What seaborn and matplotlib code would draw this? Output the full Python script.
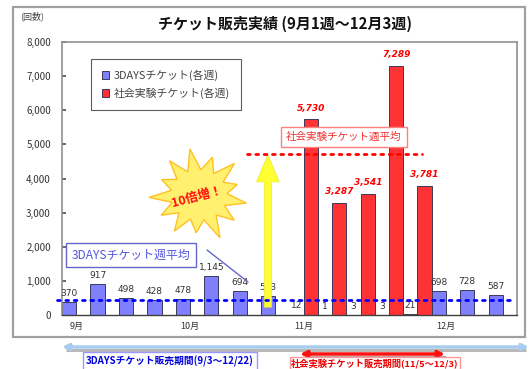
import numpy as np
import pandas as pd
import matplotlib
matplotlib.use("Agg")
import matplotlib.pyplot as plt
from matplotlib.patches import Rectangle, Polygon, FancyArrow
import seaborn as sns

# ---------------- data ----------------
weeks = ["9月1週", "9月2週", "9月3週", "9月4週",
         "10月1週", "10月2週", "10月3週", "10月4週",
         "11月1週", "11月2週", "11月3週", "11月4週", "11月5週",
         "12月1週", "12月2週", "12月3週"]
days3_values = [370, 917, 498, 428, 478, 1145, 694, 543,
                12, 1, 3, 3, 21, 698, 728, 587]
social_values = [0, 0, 0, 0, 0, 0, 0, 0,
                 5730, 3287, 3541, 7289, 3781, 0, 0, 0]
series_names = ["3DAYSチケット(各週)", "社会実験チケット(各週)"]
month_tick_pos = [0, 4, 8, 13]
month_tick_labels = ["9月", "10月", "11月", "12月"]
yticks = [0, 1000, 2000, 3000, 4000, 5000, 6000, 7000, 8000]
ytick_labels = ["0", "1,000", "2,000", "3,000", "4,000", "5,000", "6,000", "7,000", "8,000"]
days3_avg = 445
social_avg = 4725

title = "チケット販売実績 (9月1週～12月3週)"

df = pd.DataFrame({
    "week": weeks * 2,
    "series": [series_names[0]] * len(weeks) + [series_names[1]] * len(weeks),
    "value": days3_values + social_values,
})

# ---------------- style ----------------
sns.set_theme(style="white")
plt.rcParams["font.family"] = ["Noto Sans CJK JP", "DejaVu Sans"]

W, H = 532, 369
fig = plt.figure(figsize=(W / 100, H / 100), dpi=100)
fig.patch.set_facecolor("white")

def fx(px):
    return px / W

def fy(py):
    return 1 - py / H

blue = "#8080FF"
red = "#FF3333"

ax_l, ax_r, ax_t, ax_b = 62, 517, 42, 315
ax = fig.add_axes([fx(ax_l), fy(ax_b), (ax_r - ax_l) / W, (ax_b - ax_t) / H])
sns.barplot(data=df, x="week", y="value", hue="series", order=weeks,
            hue_order=series_names, palette=[blue, red], width=1.0,
            edgecolor="#3a3a5a", linewidth=0.7, ax=ax, saturation=1)

ax.set_xlim(-0.5, len(weeks) - 0.5)
ax.set_ylim(0, 8000)
ax.set_xlabel("")
ax.set_ylabel("")
ax.set_xticks(month_tick_pos)
ax.set_xticklabels(month_tick_labels, fontsize=6.5, color="#333333")
ax.set_yticks(yticks)
ax.set_yticklabels(ytick_labels, fontsize=7, color="#333333")
ax.tick_params(axis="x", length=0, pad=5)
ax.tick_params(axis="y", direction="in", length=3, color="#555555", pad=8, left=True)
for side in ["top", "right", "left"]:
    ax.spines[side].set_color("#909090")
    ax.spines[side].set_linewidth(1.2)
ax.spines["bottom"].set_color("#404040")
ax.spines["bottom"].set_linewidth(1.0)

# bar labels
blue_cont, red_cont = ax.containers[0], ax.containers[1]
ax.bar_label(blue_cont, labels=[f"{v:,}" for v in days3_values], padding=3,
             fontsize=6.5, color="#333333", family=["DejaVu Sans"])
ax.bar_label(red_cont, labels=[f"{v:,}" if v > 0 else "" for v in social_values],
             padding=5, fontsize=6.5, color="#FF0000", family=["DejaVu Sans"],
             fontstyle="italic", fontweight="bold")

# yellow arrow (drawn in data coordinates)
ax.add_patch(FancyArrow(6.74, 230, 0, 4470, width=0.26, head_width=0.8,
                        head_length=800, length_includes_head=True,
                        facecolor="#FFFF33", edgecolor="#E8E830", lw=0.5,
                        zorder=4, clip_on=False))

# average lines
ax.plot([-0.68, 15.25], [days3_avg, days3_avg], color="#0000FF", lw=2.0,
        linestyle=(0, (1, 2)), dash_capstyle="round", zorder=6, clip_on=False)
ax.plot([6.0, 12.15], [social_avg, social_avg], color="#FF0000", lw=2.0,
        linestyle=(0, (1, 2)), dash_capstyle="round", zorder=6, clip_on=False)

# legend
handles, labels = ax.get_legend_handles_labels()
leg = ax.legend(handles, labels, loc="upper left",
                bbox_to_anchor=(fx(91), fy(59)), bbox_transform=fig.transFigure,
                fontsize=7.8, frameon=True, fancybox=False, edgecolor="#333333",
                handlelength=0.7, handleheight=0.7, handletextpad=0.4,
                borderpad=1.0, labelspacing=0.6, borderaxespad=0)
leg.get_frame().set_linewidth(0.8)
for t in leg.get_texts():
    t.set_color("#444444")

# ---------------- overlay in pixel coordinates ----------------
ov = fig.add_axes([0, 0, 1, 1], zorder=5)
ov.set_xlim(0, W)
ov.set_ylim(H, 0)
ov.axis("off")
ov.patch.set_alpha(0)

# outer frame
ov.add_patch(Rectangle((13, 7), 512, 330, fill=False, ec="#A0A0A0", lw=1.6))

ov.text(285, 24, title, ha="center", va="center", fontsize=10.8, fontweight="bold",
        color="#111111")
ov.text(20, 16, "(回数)", ha="left", va="center", fontsize=6.5, color="#444444")

# starburst
cx, cy = 199, 195
n = 13
outer = [52, 44, 50, 40, 48, 45, 52, 42, 47, 44, 50, 41, 48]
inner_r = 28
pts = []
for i in range(n):
    a_out = np.deg2rad(-100 + i * 360 / n)
    a_in = np.deg2rad(-100 + (i + 0.5) * 360 / n)
    pts.append((cx + outer[i] * np.cos(a_out), cy + 0.9 * outer[i] * np.sin(a_out)))
    pts.append((cx + inner_r * np.cos(a_in), cy + 0.9 * inner_r * np.sin(a_in)))
ov.add_patch(Polygon(pts, closed=True, fc="#FFF070", ec="#FFC020", lw=1.0))
ov.text(197, 197, "10倍増！", ha="center", va="center", fontsize=9,
        fontweight="bold", color="#FF1010", rotation=15)

# average annotation boxes
ov.text(131, 255, "3DAYSチケット週平均", ha="center", va="center", fontsize=8.6,
        color="#5555DD",
        bbox=dict(boxstyle="square,pad=0.45", fc="white", ec="#6666CC", lw=1.0))
ov.plot([207, 248], [250, 282], color="#6666CC", lw=1.0)
ov.text(344, 137, "社会実験チケット週平均", ha="center", va="center", fontsize=7.6,
        color="#EE3333",
        bbox=dict(boxstyle="square,pad=0.5", fc="white", ec="#FF8080", lw=1.0))

# bottom period arrows
ov.plot([66, 526], [350, 350], color="#B8B8B8", lw=2.2, solid_capstyle="butt")
ov.annotate("", xy=(62, 347), xytext=(529, 347),
            arrowprops=dict(arrowstyle="<|-|>", color="#A8CCEE", lw=2.5,
                            mutation_scale=9, shrinkA=0, shrinkB=0))
ov.text(170, 361, "3DAYSチケット販売期間(9/3～12/22)", ha="center", va="center",
        fontsize=7, fontweight="bold", color="#0000DD",
        bbox=dict(boxstyle="square,pad=0.3", fc="white", ec="#9999FF", lw=1.0))

ov.plot([305, 446], [357, 357], color="#A0A0A0", lw=2.0, solid_capstyle="butt")
ov.annotate("", xy=(300, 354), xytext=(445, 354),
            arrowprops=dict(arrowstyle="<|-|>", color="#FF1111", lw=2.5,
                            mutation_scale=9, shrinkA=0, shrinkB=0))
ov.text(375, 363.8, "社会実験チケット販売期間(11/5～12/3)", ha="center", va="center",
        fontsize=6.7, fontweight="bold", color="#EE0000",
        bbox=dict(boxstyle="square,pad=0.15", fc="white", ec="#FF9999", lw=1.0))

fig.savefig("out.png", dpi=100)
